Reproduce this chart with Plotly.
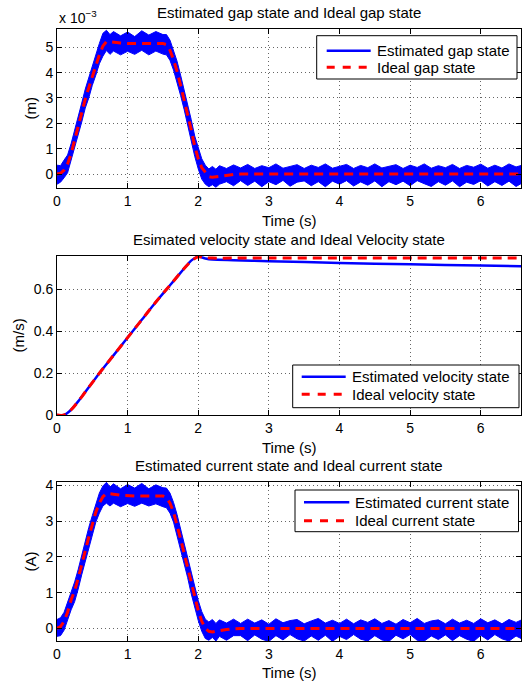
import plotly.graph_objects as go

# ---------------- data ----------------
# time grid for the noisy "estimated" bands (s)
T = [0, 0.05, 0.1, 0.15, 0.2, 0.25, 0.3, 0.35, 0.4, 0.45, 0.5, 0.55, 0.6, 0.65, 0.7, 0.75, 0.8,
     0.9, 1.0, 1.1, 1.2, 1.3, 1.4, 1.5,
     1.55, 1.6, 1.65, 1.7, 1.75, 1.8, 1.85, 1.9, 1.95, 2.0, 2.05, 2.1, 2.15, 2.2, 2.25, 2.3,
     2.4, 2.5, 2.6, 2.7, 2.8, 2.9, 3.0, 3.1, 3.2, 3.3, 3.4, 3.5, 3.6, 3.7, 3.8, 3.9, 4.0, 4.1,
     4.2, 4.3, 4.4, 4.5, 4.6, 4.7, 4.8, 4.9, 5.0, 5.1, 5.2, 5.3, 5.4, 5.5, 5.6, 5.7, 5.8, 5.9,
     6.0, 6.1, 6.2, 6.3, 6.4, 6.5, 6.6]

# time grid for the ideal curves (s)
IDEAL_T = [0, 0.05, 0.1, 0.15, 0.2, 0.25, 0.3, 0.35, 0.4, 0.45, 0.5, 0.55, 0.6, 0.65, 0.7, 0.75, 0.8,
           0.9, 1.0, 1.1, 1.2, 1.3, 1.4, 1.5,
           1.55, 1.6, 1.65, 1.7, 1.75, 1.8, 1.85, 1.9, 1.95, 2.0, 2.05, 2.1, 2.15, 2.2, 2.25, 2.3,
           2.4, 2.5, 2.6, 6.6]

# gap state, in units of 1e-3 m
gap_ideal = [0, 0.03, 0.15, 0.4, 0.8, 1.35, 1.9, 2.45, 2.95, 3.4, 3.85, 4.3, 4.7, 5.05, 5.22, 5.22, 5.2,
             5.17, 5.15, 5.15, 5.15, 5.15, 5.15, 5.15,
             5.1, 4.88, 4.5, 4.05, 3.5, 2.95, 2.35, 1.75, 1.1, 0.6, 0.25, 0.05, -0.1, -0.13, -0.11, -0.08,
             -0.04, -0.02, 0, 0]
gap_est_upper = [0.35, 0.33, 0.55, 0.75, 1.2, 1.7, 2.3, 2.8, 3.35, 3.8, 4.3, 4.7, 5.15, 5.55, 5.67, 5.5, 5.62,
                 5.45, 5.6, 5.42, 5.65, 5.48, 5.62, 5.5,
                 5.5, 5.28, 4.9, 4.45, 3.9, 3.35, 2.75, 2.15, 1.5, 1.0, 0.6, 0.35, 0.2, 0.3, 0.19, 0.33,
                 0.22, 0.36,
                 0.24, 0.38, 0.22, 0.33, 0.25, 0.4, 0.23, 0.3, 0.37, 0.22, 0.35, 0.26, 0.4, 0.23, 0.31,
                 0.38, 0.22, 0.34, 0.25, 0.4, 0.24, 0.32, 0.37, 0.22, 0.35, 0.26, 0.4, 0.23, 0.33, 0.25,
                 0.38, 0.22, 0.34, 0.27, 0.39, 0.23, 0.35, 0.24, 0.4, 0.28, 0.36]
gap_est_lower = [-0.4, -0.32, -0.15, 0.05, 0.45, 0.95, 1.55, 2.05, 2.6, 3.0, 3.5, 3.9, 4.35, 4.65, 4.87, 4.72, 4.85,
                 4.7, 4.84, 4.72, 4.88, 4.7, 4.85, 4.73,
                 4.7, 4.48, 4.1, 3.65, 3.1, 2.55, 1.95, 1.35, 0.7, 0.2, -0.2, -0.4, -0.5, -0.42, -0.52, -0.4,
                 -0.3, -0.46,
                 -0.26, -0.45, -0.28, -0.5, -0.3, -0.42, -0.25, -0.48, -0.32, -0.27, -0.46, -0.3, -0.5,
                 -0.28, -0.4, -0.26, -0.47, -0.31, -0.44, -0.27, -0.5, -0.3, -0.42, -0.28, -0.46, -0.26,
                 -0.38, -0.49, -0.3, -0.44, -0.27, -0.5, -0.32, -0.41, -0.26, -0.47, -0.3, -0.45, -0.28,
                 -0.49, -0.33]

# velocity state (m/s)
vel_t = [0, 0.1, 0.2, 0.3, 0.4, 0.5, 0.6, 0.8, 1.0, 1.2, 1.4, 1.6, 1.8, 1.9, 2.0, 2.1, 2.2, 2.5,
         3.0, 4.0, 5.0, 6.0, 6.6]
vel_ideal = [0, 0.0, 0.025, 0.065, 0.11, 0.155, 0.2, 0.285, 0.37, 0.455, 0.54, 0.62, 0.7, 0.735,
             0.756, 0.752, 0.75, 0.75, 0.75, 0.75, 0.75, 0.75, 0.75]
vel_est = [0, 0.0, 0.025, 0.065, 0.11, 0.155, 0.2, 0.285, 0.37, 0.455, 0.54, 0.62, 0.7, 0.738,
           0.757, 0.748, 0.743, 0.74, 0.735, 0.727, 0.72, 0.715, 0.711]

# current state (A)
cur_ideal = [0, 0.05, 0.2, 0.45, 0.8, 1.05, 1.4, 1.8, 2.15, 2.55, 2.9, 3.25, 3.5, 3.68, 3.77, 3.77, 3.75,
             3.72, 3.7, 3.7, 3.7, 3.7, 3.7, 3.7,
             3.65, 3.5, 3.25, 2.9, 2.5, 2.1, 1.7, 1.25, 0.85, 0.5, 0.2, 0.0, -0.08, -0.1, -0.08, -0.06,
             -0.03, -0.01, 0, 0]
cur_est_upper = [0.25, 0.3, 0.45, 0.72, 1.05, 1.3, 1.65, 2.05, 2.42, 2.82, 3.15, 3.5, 3.78, 3.98, 4.08, 3.95, 4.04,
                 3.9, 4.02, 3.92, 4.05, 3.9, 4.01, 3.93,
                 3.92, 3.78, 3.52, 3.18, 2.78, 2.38, 1.98, 1.53, 1.13, 0.78, 0.47, 0.26, 0.18, 0.25, 0.14, 0.24,
                 0.15, 0.26,
                 0.14, 0.26, 0.15, 0.24, 0.12, 0.27, 0.16, 0.22, 0.25, 0.13, 0.21, 0.28, 0.15, 0.23, 0.14,
                 0.26, 0.13, 0.24, 0.17, 0.27, 0.14, 0.22, 0.12, 0.25, 0.16, 0.28, 0.14, 0.21, 0.24, 0.13,
                 0.26, 0.15, 0.23, 0.14, 0.27, 0.16, 0.24, 0.13, 0.25, 0.17, 0.26]
cur_est_lower = [-0.22, -0.2, -0.05, 0.2, 0.52, 0.75, 1.1, 1.5, 1.85, 2.25, 2.62, 2.97, 3.22, 3.42, 3.5, 3.42, 3.5,
                 3.4, 3.49, 3.41, 3.5, 3.42, 3.48, 3.4,
                 3.37, 3.22, 2.97, 2.62, 2.22, 1.82, 1.42, 0.97, 0.57, 0.22, -0.08, -0.28, -0.33, -0.25, -0.35, -0.22,
                 -0.33, -0.2,
                 -0.2, -0.34, -0.18, -0.3, -0.36, -0.2, -0.32, -0.17, -0.29, -0.35, -0.21, -0.33, -0.19,
                 -0.36, -0.22, -0.31, -0.17, -0.3, -0.35, -0.2, -0.32, -0.36, -0.19, -0.29, -0.17, -0.33,
                 -0.35, -0.21, -0.31, -0.18, -0.34, -0.2, -0.3, -0.36, -0.19, -0.32, -0.17, -0.29, -0.35,
                 -0.21, -0.31]

for arr in (gap_est_upper, gap_est_lower, cur_est_upper, cur_est_lower):
    assert len(arr) == len(T), (len(arr), len(T))
assert len(gap_ideal) == len(IDEAL_T) and len(cur_ideal) == len(IDEAL_T)

titles = ["Estimated gap state and Ideal gap state",
          "Esimated velocity state and Ideal Velocity state",
          "Estimated current state and Ideal current state"]
est_names = ["Estimated gap state", "Estimated velocity state", "Estimated current state"]
ideal_names = ["Ideal gap state", "Ideal velocity state", "Ideal current state"]
y_labels = ["(m)", "(m/s)", "(A)"]

# ---------------- styling ----------------
W, H = 522, 683
ML, MR, MT, MB = 57, 1, 29, 42
FONT = "Liberation Sans, Arial, Helvetica, sans-serif"
BLUE = "rgb(0,0,255)"
RED = "rgb(255,0,0)"
RED_DASH = "9px,6px"
LEG_DASH = "8px,8px"

fig = go.Figure()

def band(tt, up, lo, xa, ya, name):
    fig.add_trace(go.Scatter(x=tt + tt[::-1], y=up + lo[::-1], mode="lines", name=name,
                             fill="toself", fillcolor=BLUE,
                             line=dict(color=BLUE, width=1),
                             xaxis=xa, yaxis=ya, showlegend=False, hoverinfo="skip"))

def ideal_line(tt, vv, name, xa, ya, shape="linear"):
    fig.add_trace(go.Scatter(x=tt, y=vv, mode="lines", name=name, showlegend=False,
                             line=dict(color=RED, width=3, dash=RED_DASH, shape=shape),
                             xaxis=xa, yaxis=ya))

# panel 1 - gap
band(T, gap_est_upper, gap_est_lower, "x", "y", est_names[0])
ideal_line(IDEAL_T, gap_ideal, ideal_names[0], "x", "y")

# panel 2 - velocity
fig.add_trace(go.Scatter(x=vel_t, y=vel_est, mode="lines", name=est_names[1], showlegend=False,
                         line=dict(color=BLUE, width=2.5, shape="spline", smoothing=0.6),
                         xaxis="x2", yaxis="y2"))
ideal_line(vel_t, vel_ideal, ideal_names[1], "x2", "y2", shape="spline")

# panel 3 - current
band(T, cur_est_upper, cur_est_lower, "x3", "y3", est_names[2])
ideal_line(IDEAL_T, cur_ideal, ideal_names[2], "x3", "y3")

PH = H - MT - MB  # plot-area height in px

def py(pix):
    """convert a pixel row (from top of page) to paper y."""
    return (H - MB - pix) / PH

def px(pix):
    return (pix - ML) / (W - ML - MR)

domains = [[py(188), 1.0], [py(415), py(256)], [0.0, py(482)]]
yranges = [[-0.55, 5.72], [0, 0.76], [-0.35, 4.09]]
ytickvals = [[0, 1, 2, 3, 4, 5], [0, 0.2, 0.4, 0.6], [0, 1, 2, 3, 4]]
yticktext = [["0", "1", "2", "3", "4", "5"], ["0", "0.2", "0.4", "0.6"], ["0", "1", "2", "3", "4"]]

axis_common = dict(showline=True, linecolor="black", linewidth=1, mirror="ticks",
                   ticks="inside", ticklen=5, tickcolor="black", tickwidth=1,
                   showgrid=True, gridcolor="#666666", gridwidth=1, griddash="1px,3px",
                   zeroline=False, tickfont=dict(family=FONT, size=14, color="black"))

layout = dict(width=W, height=H, margin=dict(l=ML, r=MR, t=MT, b=MB),
              paper_bgcolor="white", plot_bgcolor="white", showlegend=False,
              font=dict(family=FONT, size=14, color="black"))

for i in range(3):
    s = "" if i == 0 else str(i + 1)
    layout["xaxis" + s] = dict(axis_common, domain=[0, 1], range=[0, 6.57],
                               tickvals=[0, 1, 2, 3, 4, 5, 6], anchor="y" + s)
    layout["yaxis" + s] = dict(axis_common, domain=domains[i], range=yranges[i],
                               tickvals=ytickvals[i], ticktext=yticktext[i], anchor="x" + s)

ann = []
shapes = []
title_rows = [12, 239, 465]
xlabel_rows = [220, 447, 672]
ylabel_cols = [30, 18, 30]
ylabel_rows = [108.5, 335.5, 561.5]
# MATLAB-style legend boxes (pixel geometry)
leg_boxes = [(316.7, 35.7, 517, 79), (292.7, 365, 519, 407.7), (295, 490, 518.5, 531.7)]
leg_rows = [(50.7, 67.3), (376.7, 394.3), (502.3, 520.7)]
leg_line_x = [(326.7, 370.7), (301.7, 345.7), (304, 349.3)]
leg_text_x = [375.5, 350.5, 353.5]

for i in range(3):
    ann.append(dict(text=titles[i], x=0.5, y=py(title_rows[i]), xref="paper", yref="paper",
                    xanchor="center", yanchor="middle", showarrow=False,
                    font=dict(family=FONT, size=15, color="black")))
    ann.append(dict(text="Time (s)", x=0.5, y=py(xlabel_rows[i]), xref="paper", yref="paper",
                    xanchor="center", yanchor="middle", showarrow=False,
                    font=dict(family=FONT, size=15, color="black")))
    ann.append(dict(text=y_labels[i], x=px(ylabel_cols[i]), y=py(ylabel_rows[i]),
                    xref="paper", yref="paper", xanchor="center", yanchor="middle",
                    textangle=-90, showarrow=False,
                    font=dict(family=FONT, size=15, color="black")))
    # legend
    x0, y0, x1, y1 = leg_boxes[i]
    shapes.append(dict(type="rect", xref="paper", yref="paper",
                       x0=px(x0), x1=px(x1), y0=py(y1), y1=py(y0),
                       fillcolor="white", line=dict(color="black", width=1), layer="above"))
    lx0, lx1 = leg_line_x[i]
    r1, r2 = leg_rows[i]
    shapes.append(dict(type="line", xref="paper", yref="paper",
                       x0=px(lx0), x1=px(lx1), y0=py(r1), y1=py(r1),
                       line=dict(color=BLUE, width=2.5), layer="above"))
    shapes.append(dict(type="line", xref="paper", yref="paper",
                       x0=px(lx0), x1=px(lx1), y0=py(r2), y1=py(r2),
                       line=dict(color=RED, width=3, dash=LEG_DASH), layer="above"))
    for name, row in ((est_names[i], r1), (ideal_names[i], r2)):
        ann.append(dict(text=name, x=px(leg_text_x[i]), y=py(row), xref="paper", yref="paper",
                        xanchor="left", yanchor="middle", showarrow=False, borderpad=0,
                        font=dict(family=FONT, size=15, color="black")))

ann.append(dict(text="x 10<sup>\u22123</sup>", x=0, y=py(17), xref="paper", yref="paper",
                xanchor="left", yanchor="middle", showarrow=False,
                font=dict(family=FONT, size=14, color="black")))
layout["annotations"] = ann
layout["shapes"] = shapes

fig.update_layout(**layout)
fig.write_html("out.html", config={"displayModeBar": False},
               post_script="document.body.style.margin='0';document.body.style.padding='0';"
                           "document.body.style.overflow='hidden';")
